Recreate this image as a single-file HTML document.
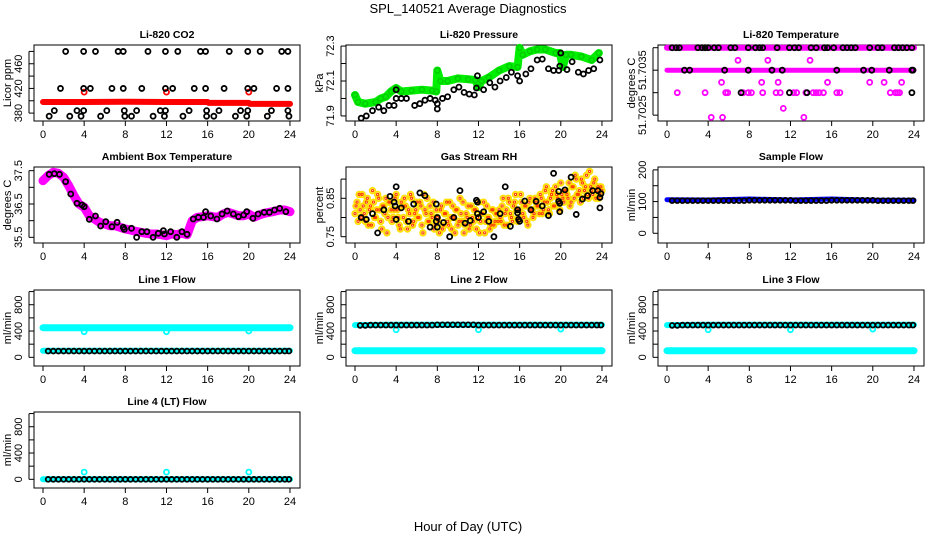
<!DOCTYPE html>
<html><head><meta charset="utf-8"><style>
html,body{margin:0;padding:0;background:#fff;}
svg{display:block;font-family:"Liberation Sans",Arial,sans-serif;}
</style></head><body>
<svg id="chart" width="936" height="540" viewBox="0 0 936 540" xmlns="http://www.w3.org/2000/svg">
<text x="468" y="13" font-size="13" text-anchor="middle">SPL_140521  Average Diagnostics</text>
<text x="468" y="531" font-size="13" text-anchor="middle">Hour of Day (UTC)</text>
</svg>
<script>
// ---- data ----
const xTicks = [0,4,8,12,16,20,24];
const co2BlackHours = [2.2,3.95,5.1,7.3,7.8,10.2,11.9,13.1,15.3,15.8,18.1,19.9,21.1,23.2,23.8, 1.7,3.95,4.6,6.7,7.8,9.6,11.9,12.6,14.7,15.8,17.6,19.9,20.5,22.7,23.8, 1.1,3.3,3.95,6.2,7.9,9.1,11.4,11.9,14.2,15.9,17.1,19.2,19.9,22.2,23.8, 0.6,2.6,3.7,5.6,7.95,8.6,10.7,11.8,13.6,15.9,16.6,18.7,19.8,21.8,23.9];
const co2BlackValues = [480,480,480,480,480,480,480,480,480,480,480,480,480,480,480, 420,420,420,420,420,420,420,420,420,420,420,420,420,420,420, 384,384,384,384,384,384,384,384,384,384,384,384,384,384,384, 375,375,375,375,375,375,375,375,375,375,375,375,375,375,375];
const co2RedHours = [0,4,8,12,16,16.1,20,20.1,24];
const co2RedValues = [398,398,398.5,398,398,396.5,396.5,395,395];
const co2RedOutHours = [4,12,20];
const co2RedOutValues = [414,414,414];

const presGreenHours = [0,0.3,1,2,2.5,3,3.5,4,4.5,5.5,6.5,7.5,7.9,8,8.3,9,10,11,11.7,12,12.3,13,14,15,15.8,16,16.3,17,17.7,18.5,19.5,19.9,20.2,20.5,21,22,23,23.7];
const presGreenValues = [72.02,71.98,71.97,71.98,72.0,72.01,72.04,72.06,72.04,72.045,72.05,72.045,72.04,72.16,72.10,72.10,72.115,72.11,72.105,72.065,72.10,72.12,72.16,72.185,72.18,72.29,72.25,72.27,72.28,72.28,72.26,72.26,72.18,72.25,72.25,72.24,72.22,72.26];
const presBlackHours = [0.6,1.1,1.7,2.3,2.8,3.3,3.8,4,4,4.5,5,5.8,6.3,6.8,7.3,7.8,8,8,8.5,9,9.6,10.1,10.6,11.1,11.6,11.8,11.9,12.5,13.1,13.6,14.1,14.7,15.2,15.8,16,16.6,17.1,17.7,18.2,18.8,19.3,19.8,19.9,20,20.6,21.1,21.7,22.2,22.7,23.2,23.8];
const presBlackValues = [71.887,71.90,71.93,71.95,71.93,71.96,71.96,72.0,72.05,72.0,72.0,71.96,71.97,71.99,72.0,71.99,71.94,71.97,72.0,72.01,72.05,72.065,72.035,72.025,72.02,72.06,72.13,72.05,72.09,72.065,72.10,72.12,72.15,72.13,72.10,72.14,72.17,72.22,72.225,72.17,72.16,72.16,72.185,72.26,72.165,72.21,72.15,72.14,72.16,72.17,72.22];

const tempBandHours = [0,24];
const tempBandTop = [51.7040,51.7040];
const tempBandMid = [51.7035,51.7035];
const tempMagHours = [6.9,9.8,13.9,5.3,9.2,10.8,15.6,19.7,21.1,22.8,1,3.7,5.7,5.9,7.4,7.9,8.2,9.3,10.6,11,12.3,12.6,13.5,14.2,14.5,14.8,15.2,16.5,16.8,21.7,22.2,22.4,22.6,11.3,4.3,5.4,13.3];
const tempMagValues = [51.70372,51.70372,51.70372,51.70323,51.70323,51.70323,51.70323,51.70323,51.70323,51.70323,51.7030,51.7030,51.7030,51.7030,51.7030,51.7030,51.7030,51.7030,51.7030,51.7030,51.7030,51.7030,51.7030,51.7030,51.7030,51.7030,51.7030,51.7030,51.7030,51.7030,51.7030,51.7030,51.7030,51.70265,51.70245,51.70245,51.70245];
const tempBlackHours = [0.5,0.9,1.2,3.0,3.4,3.7,4.0,4.6,5.0,6.2,6.6,7.9,8.6,9.0,9.3,10.7,11.9,12.4,12.8,14.0,14.5,15.3,15.6,16.2,17.1,17.5,17.9,18.3,19.7,20.5,20.9,22.1,22.5,22.9,23.3,23.8, 1.7,2.2,5.6,7.9,10.2,11.2,16.5,19.1,19.9,21.6,23.8,23.9, 7.2,11.9,13.6,23.8];
const tempBlackValues = [51.7040,51.7040,51.7040,51.7040,51.7040,51.7040,51.7040,51.7040,51.7040,51.7040,51.7040,51.7040,51.7040,51.7040,51.7040,51.7040,51.7040,51.7040,51.7040,51.7040,51.7040,51.7040,51.7040,51.7040,51.7040,51.7040,51.7040,51.7040,51.7040,51.7040,51.7040,51.7040,51.7040,51.7040,51.7040,51.7040, 51.7035,51.7035,51.7035,51.7035,51.7035,51.7035,51.7035,51.7035,51.7035,51.7035,51.7035,51.7035, 51.7030,51.7030,51.7030,51.7030];

const halfHours = [0,0.5,1,1.5,2,2.5,3,3.5,4,4.5,5,5.5,6,6.5,7,7.5,8,8.5,9,9.5,10,10.5,11,11.5,12,12.5,13,13.5,14,14.5,15,15.5,16,16.5,17,17.5,18,18.5,19,19.5,20,20.5,21,21.5,22,22.5,23,23.5,24];
const ambMagValues = [37.2,37.35,37.45,37.42,37.3,37.05,36.75,36.5,36.4,36.15,36.05,35.95,35.9,35.85,35.85,35.8,35.75,35.72,35.68,35.65,35.62,35.6,35.6,35.58,35.55,35.6,35.58,35.62,35.58,36.0,36.1,36.12,36.15,36.12,36.1,36.2,36.25,36.2,36.15,36.15,36.2,36.1,36.17,36.22,36.25,36.28,36.32,36.32,36.27];
const ambBlackHours = [0.6,1.1,1.6,2.2,2.7,3.3,3.8,4,4.5,5.1,5.6,6.1,6.7,7.2,7.8,7.9,8.6,9.1,9.6,10.1,10.7,11.2,11.7,11.8,12.4,13,13.5,14,14.6,15.1,15.6,15.8,16.3,16.9,17.4,17.9,18.5,19,19.5,19.8,20.4,20.9,21.5,22,22.5,23,23.6];
const ambBlackValues = [37.39,37.41,37.39,37.17,36.8,36.52,36.47,36.42,36.04,36.14,35.84,35.97,35.82,35.95,35.8,35.74,35.77,35.5,35.67,35.67,35.5,35.62,35.7,35.6,35.67,35.5,35.67,35.59,36.05,36.1,36.1,36.27,36.14,36.05,36.2,36.29,36.2,36.12,36.17,36.27,36.07,36.2,36.25,36.25,36.32,36.37,36.27];

const rhCloudA = [0.81,0.84,0.86,0.80,0.83,0.79,0.85,0.82,0.78,0.84,0.80,0.86,0.82,0.77,0.83,0.85,0.80,0.84,0.79,0.82,0.86, 0.80,0.77,0.83,0.85,0.79,0.82,0.86,0.78,0.81,0.84,0.80,0.83,0.76,0.82,0.85,0.79,0.81,0.84,0.78, 0.80,0.76,0.83,0.78,0.81,0.79,0.84,0.77,0.80,0.82,0.78,0.85,0.79,0.76,0.81,0.83,0.78,0.80,0.82,0.77,0.84,0.79,0.81,0.76,0.83,0.80,0.78,0.82,0.79,0.81, 0.82,0.79,0.85,0.81,0.78,0.84,0.80,0.83,0.86,0.79,0.82,0.84,0.80,0.83,0.78,0.85,0.82,0.81,0.84, 0.83,0.86,0.81,0.84,0.88,0.82,0.85,0.87,0.83,0.86,0.84,0.89,0.85,0.87, 0.86,0.89,0.84,0.88,0.91,0.86,0.87,0.90,0.85,0.88,0.86,0.92,0.87,0.89,0.85,0.88,0.86,0.87];
const rhCloudB = [0.83,0.79,0.82,0.86,0.81,0.84,0.78,0.83,0.87,0.80,0.82,0.85,0.79,0.83,0.81,0.76,0.84,0.82,0.80,0.85, 0.82,0.78,0.84,0.80,0.83,0.77,0.81,0.85,0.79,0.82,0.80,0.84,0.78,0.86,0.81,0.79,0.83,0.80,0.77,0.82, 0.79,0.82,0.77,0.81,0.84,0.78,0.80,0.83,0.76,0.82,0.79,0.81,0.84,0.78,0.80,0.77,0.83,0.79,0.82,0.80,0.76,0.81,0.84,0.79,0.80,0.77,0.82,0.78,0.81,0.79, 0.80,0.83,0.78,0.82,0.85,0.81,0.79,0.84,0.82,0.80,0.86,0.81,0.83,0.79,0.84,0.82,0.80,0.85,0.83,0.81, 0.85,0.82,0.87,0.84,0.81,0.86,0.83,0.88,0.85,0.82,0.86,0.84,0.87,0.85,0.83, 0.88,0.85,0.90,0.86,0.84,0.89,0.87,0.91,0.85,0.88,0.86,0.90,0.87,0.85,0.88];
const rhBlackHours = [0.6,1.1,1.7,2.2,2.8,3.4,3.8,3.9,4,4,4.5,5.2,5.7,6.3,6.8,7.3,7.9,7.9,8,8,8.6,9.2,9.6,10.2,10.7,11.2,11.8,11.9,11.9,12,12.5,13,13.5,14.1,14.6,15.1,15.8,15.8,15.9,16,16.5,17.1,17.6,18.2,18.8,19.3,19.8,19.8,19.9,19.9,20.4,21,21.5,22.1,22.6,23.1,23.6,23.8,23.8,23.9];
const rhBlackValues = [0.80,0.795,0.81,0.76,0.82,0.855,0.84,0.83,0.795,0.88,0.825,0.79,0.835,0.864,0.857,0.775,0.835,0.79,0.775,0.80,0.787,0.75,0.80,0.87,0.785,0.792,0.845,0.84,0.81,0.80,0.815,0.79,0.75,0.81,0.88,0.777,0.82,0.812,0.795,0.79,0.843,0.82,0.842,0.83,0.805,0.915,0.868,0.842,0.837,0.815,0.872,0.905,0.808,0.848,0.857,0.87,0.87,0.852,0.825,0.862];

const flowBandHours = [0,4,8,12,16,20,24];
const sampleBlue = [106,105,108,105,108,104,104];
const blackHours = [0.5,1,1.5,2,2.5,3,3.5,4,4.5,5,5.5,6,6.5,7,7.5,8,8.5,9,9.5,10,10.5,11,11.5,12,12.5,13,13.5,14,14.5,15,15.5,16,16.5,17,17.5,18,18.5,19,19.5,20,20.5,21,21.5,22,22.5,23,23.5,23.9];
const sampleBlack = [103,103,103,103,103,103,103,103,103,103,103,103,103,103,103,104,104,104,104,104,104,104,104,104,103,103,103,103,103,103,103,104,104,104,104,104,104,104,104,104,103,103,103,103,103,103,103,103];
const line1CyanHigh = [450,450,450,450,450,450,450];
const line1CyanLow = [100,100,100,100,100,100,100];
const line1Black = [95,95,95,95,95,95,95,95,95,95,95,95,95,95,95,95,95,95,95,95,95,95,95,95,95,95,95,95,95,95,95,95,95,95,95,95,95,95,95,95,95,95,95,95,95,95,95,95];
const line1DipHours = [4,12,20];
const line1DipValues = [390,390,400];
const line2CyanHigh = [490,495,495,495,495,495,495];
const line2CyanLow = [100,100,100,100,100,100,100];
const line2Black = [485,485,490,490,490,490,490,490,490,490,490,490,490,490,490,495,495,495,495,495,495,495,495,490,490,490,490,490,490,490,490,490,490,490,490,490,490,490,490,490,490,490,490,490,490,490,490,490];
const line2DipHours = [4,12,20];
const line2DipValues = [420,420,430];
const line3CyanHigh = [490,495,495,495,495,495,495];
const line3CyanLow = [100,100,100,100,100,100,100];
const line3Black = [485,485,490,490,490,490,490,490,490,490,490,490,490,490,490,490,490,490,490,490,490,490,490,490,490,490,490,490,490,490,490,490,490,490,490,490,490,490,490,490,490,490,490,490,490,490,490,490];
const line3DipHours = [4,12,20];
const line3DipValues = [420,420,430];
const line4Cyan = [0,0,0,0,0,0,0];
const line4Black = [0,0,0,0,0,0,0,0,0,0,0,0,0,0,0,0,0,0,0,0,0,0,0,0,0,0,0,0,0,0,0,0,0,0,0,0,0,0,0,0,0,0,0,0,0,0,0,0];
const line4SpikeHours = [4,12,20];
const line4SpikeValues = [110,110,110];

// ---- drawing ----
const NS = "http://www.w3.org/2000/svg";
const svg = document.getElementById('chart');
const boxLeft = [34,346,658];
const rowTop = [45,167,290,412];
const BW = 266, BH = 76, PPH = 10.29;
function el(tag, attrs, parent){
  const e = document.createElementNS(NS, tag);
  for (const k in attrs) e.setAttribute(k, attrs[k]);
  (parent||svg).appendChild(e);
  return e;
}
function panel(col,row,name,title,ylab,dom,ticks,labelTicks,labelText){
  const L = boxLeft[col], T = rowTop[row], B = T+BH;
  const g = el('g',{});
  
  
  const x = h => L + 9 + h*PPH;
  const y = v => B - (v-dom[0])/(dom[1]-dom[0])*BH;
  const t = el('text',{x:L+BW/2,y:T-7,'font-size':10.5,'font-weight':'bold','text-anchor':'middle'},g);
  t.textContent = title;
  
  
  const box = el('rect',{x:L,y:T,width:BW,height:BH,fill:'none',stroke:'#000','stroke-width':1},g);
  
  
  xTicks.forEach(h=>{
    el('line',{x1:x(h),x2:x(h),y1:B,y2:B+5,stroke:'#000'},g);
    const tl = el('text',{x:x(h),y:B+17,'font-size':11,'text-anchor':'middle'},g);
    tl.textContent = h;
    
    
  });
  el('line',{x1:L-5,x2:L-5,y1:y(ticks[0]),y2:y(ticks[ticks.length-1]),stroke:'#000'},g);
  ticks.forEach(v=>{ el('line',{x1:L-5,x2:L,y1:y(v),y2:y(v),stroke:'#000'},g); });
  labelTicks.forEach((v,i)=>{
    const yl = el('text',{x:0,y:0,'font-size':11,'text-anchor':'middle','dominant-baseline':'central',transform:`translate(${L-15},${y(v)}) rotate(-90)`},g);
    yl.textContent = labelText[i];
    
    
  });
  const yt = el('text',{x:0,y:0,'font-size':11,'text-anchor':'middle','dominant-baseline':'central',transform:`translate(${L-26},${T+BH/2}) rotate(-90)`},g);
  yt.textContent = ylab;
  
  
  return {x,y,g};
}
function pts(p,hours,vals,color,r,sw,name){
  hours.forEach((h,i)=>{
    const c = el('circle',{cx:p.x(h),cy:p.y(vals[i]),r:r,fill:'none',stroke:color,'stroke-width':sw},p.g);
    
    
  });
}
function band(p,hours,vals,color,w,name){
  const d = hours.map((h,i)=>p.x(h).toFixed(1)+','+p.y(vals[i]).toFixed(1)).join(' ');
  const pl = el('polyline',{points:d,fill:'none',stroke:color,'stroke-width':w,'stroke-linecap':'round','stroke-linejoin':'round'},p.g);
  
  
}
const R = 2.5, SW = 1.8;

// CO2
let p = panel(0,0,'panel-co2','Li-820 CO2','Licor ppm',[367.2,490.4],[380,400,420,440,460,480],[380,420,460],['380','420','460']);
band(p,co2RedHours,co2RedValues,'#ff0000',6,'co2-red-series');
pts(p,co2RedOutHours,co2RedOutValues,'#ff0000',R,SW,'co2-red-point');
pts(p,co2BlackHours,co2BlackValues,'#000',R,SW,'co2-black-point');

// Pressure
p = panel(1,0,'panel-pressure','Li-820 Pressure','kPa',[71.871,72.306],[71.9,72.0,72.1,72.2,72.3],[71.9,72.1,72.3],['71.9','72.1','72.3']);
band(p,presGreenHours,presGreenValues,'#00ee00',8,'pressure-green-series');
pts(p,presGreenHours,presGreenValues,'#00cc00',R,1.4,'pressure-green-point');
pts(p,presBlackHours,presBlackValues,'#000',R,SW,'pressure-black-point');

// Temperature
p = panel(2,0,'panel-li820-temp','Li-820 Temperature','degrees C',[51.70237,51.70406],[51.7025,51.7030,51.7035,51.7040],[51.7025,51.7035],['51.7025','51.7035']);
band(p,tempBandHours,tempBandTop,'#ff00ff',6,'temp-magenta-top');
band(p,tempBandHours,tempBandMid,'#ff00ff',5,'temp-magenta-mid');
pts(p,tempMagHours,tempMagValues,'#ff00ff',R,SW,'temp-magenta-point');
pts(p,tempBlackHours,tempBlackValues,'#000',R,SW,'temp-black-point');

// Ambient
p = panel(0,1,'panel-ambient-temp','Ambient Box Temperature','degrees C',[35.33,37.61],[35.5,36,36.5,37,37.5],[35.5,36.5,37.5],['35.5','36.5','37.5']);
band(p,halfHours,ambMagValues,'#ff00ff',9,'ambient-magenta-series');
pts(p,ambBlackHours,ambBlackValues,'#000',R,SW,'ambient-black-point');

// RH
p = panel(1,1,'panel-gas-rh','Gas Stream RH','percent',[0.7336,0.9315],[0.75,0.80,0.85,0.90],[0.75,0.85],['0.75','0.85']);
pts(p,rhCloudA.map((v,i)=>i*0.2),rhCloudA,'#ffe000',2.8,1.8,'rh-cloud-point');
pts(p,rhCloudB.map((v,i)=>0.1+i*0.2),rhCloudB,'#ffe000',2.8,1.8,'rh-cloud-point');
pts(p,rhCloudA.map((v,i)=>i*0.2),rhCloudA,'#ff4000',1.1,1.1,'rh-cloud-core');
pts(p,rhCloudB.map((v,i)=>0.1+i*0.2),rhCloudB,'#ff4000',1.1,1.1,'rh-cloud-core');
pts(p,rhBlackHours,rhBlackValues,'#000',R,SW,'rh-black-point');

// Sample flow
p = panel(2,1,'panel-sample-flow','Sample Flow','ml/min',[-30.6,209],[0,50,100,150,200],[0,100,200],['0','100','200']);
band(p,flowBandHours,sampleBlue,'#0000ff',5,'sample-blue-series');
pts(p,blackHours,sampleBlack,'#000',2.4,SW,'sample-black-point');

const fTicks=[0,200,400,600,800,1000], fLab=[0,400,800], fTxt=['0','400','800'], fDom=[-132,1024];
// Line 1
p = panel(0,2,'panel-line1-flow','Line 1 Flow','ml/min',fDom,fTicks,fLab,fTxt);
band(p,flowBandHours,line1CyanHigh,'#00ffff',7,'line1-cyan-high');
band(p,flowBandHours,line1CyanLow,'#00ffff',6,'line1-cyan-low');
pts(p,line1DipHours,line1DipValues,'#00ffff',R,SW,'line1-cyan-dip');
pts(p,blackHours,line1Black,'#000',2.4,SW,'line1-black-point');
// Line 2
p = panel(1,2,'panel-line2-flow','Line 2 Flow','ml/min',fDom,fTicks,fLab,fTxt);
band(p,flowBandHours,line2CyanHigh,'#00ffff',6,'line2-cyan-high');
band(p,flowBandHours,line2CyanLow,'#00ffff',7,'line2-cyan-low');
pts(p,line2DipHours,line2DipValues,'#00ffff',R,SW,'line2-cyan-dip');
pts(p,blackHours,line2Black,'#000',2.4,SW,'line2-black-point');
// Line 3
p = panel(2,2,'panel-line3-flow','Line 3 Flow','ml/min',fDom,fTicks,fLab,fTxt);
band(p,flowBandHours,line3CyanHigh,'#00ffff',6,'line3-cyan-high');
band(p,flowBandHours,line3CyanLow,'#00ffff',7,'line3-cyan-low');
pts(p,line3DipHours,line3DipValues,'#00ffff',R,SW,'line3-cyan-dip');
pts(p,blackHours,line3Black,'#000',2.4,SW,'line3-black-point');
// Line 4
p = panel(0,3,'panel-line4-flow','Line 4 (LT) Flow','ml/min',fDom,fTicks,fLab,fTxt);
band(p,flowBandHours,line4Cyan,'#00ffff',6,'line4-cyan-series');
pts(p,line4SpikeHours,line4SpikeValues,'#00ffff',R,SW,'line4-cyan-spike');
pts(p,blackHours,line4Black,'#000',2.4,SW,'line4-black-point');
</script>
</body></html>
